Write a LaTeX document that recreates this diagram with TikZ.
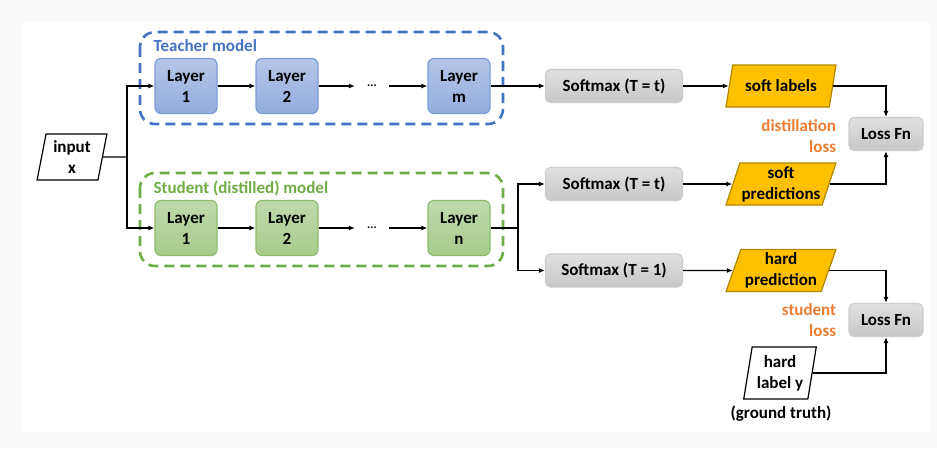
\documentclass[tikz,border=0pt]{standalone}
\usepackage{fontspec}
\setmainfont{Carlito}
\usetikzlibrary{arrows.meta,shapes.geometric}

\definecolor{tblue}{HTML}{4472C4}
\definecolor{sgreen}{HTML}{70AD47}
\definecolor{lossorange}{HTML}{ED7D31}
\definecolor{dataorange}{HTML}{FFC000}

\tikzset{
  layerT/.style={rounded corners=6pt, draw=tblue!70, top color=tblue!40, bottom color=tblue!58,
    minimum width=62pt, minimum height=55pt},
  layerS/.style={rounded corners=6pt, draw=sgreen!80, top color=sgreen!45, bottom color=sgreen!62,
    minimum width=62pt, minimum height=55pt},
  softbox/.style={rounded corners=5pt, draw=black!20, top color=black!12, bottom color=black!22,
    minimum width=137pt, minimum height=33pt},
  lossbox/.style={softbox, minimum width=74pt},
  datashape/.style={trapezium, trapezium left angle=70, trapezium right angle=110,
    trapezium stretches=true, draw=dataorange!70!black, fill=dataorange,
    minimum width=110pt, minimum height=42pt, inner sep=1pt},
  inshape/.style={datashape, fill=white, draw=black, trapezium left angle=79, trapezium right angle=101},
  modelbox/.style={draw, dashed, line width=2.6pt, dash pattern=on 10pt off 6pt, rounded corners=15pt},
  dots/.style={minimum width=33pt, inner sep=0pt, font=\fontsize{12}{12}\selectfont\bfseries},
}

\begin{document}
\begin{tikzpicture}[x=1pt, y=-1pt,
    every node/.style={align=center, font=\fontsize{17}{21}\selectfont\bfseries},
    line width=1.2pt,
    >={Latex[length=6pt,width=5pt]}
  ]
    % background
    \fill[black!2] (0,0) rectangle (937,448);
    \fill[white] (22,22) rectangle (931,432);
    \useasboundingbox (0,0) rectangle (937,448);

    % model frames
    \draw[modelbox, tblue] (140,32) rectangle (503,124);
    \node[anchor=west, text=tblue, inner sep=0pt] (tname) at (153,46) {Teacher model};
    \draw[modelbox, sgreen] (140,173) rectangle (503,266);
    \node[anchor=west, text=sgreen, inner sep=0pt] (sname) at (153,188) {Student (distilled) model};

    % input
    \node[inshape, minimum width=70pt, minimum height=46pt] (inp) at (72,157) {input\\x};
    \coordinate (fork) at (127,157);

    % teacher layers
    \node[layerT] (t1) at (186,86) {Layer\\1};
    \node[layerT] (t2) at (287,86) {Layer\\2};
    \node[dots] (tdots) at (372,86) {...};
    \node[layerT] (tm) at (459,86) {Layer\\m};

    % student layers
    \node[layerS] (s1) at (186,228) {Layer\\1};
    \node[layerS] (s2) at (287,228) {Layer\\2};
    \node[dots] (sdots) at (372,228) {...};
    \node[layerS] (sn) at (459,228) {Layer\\n};
    \coordinate (sfork) at (518,228);

    % softmax boxes
    \node[softbox] (softT) at (614,86) {Softmax (T = t)};
    \node[softbox] (softS) at (614,184) {Softmax (T = t)};
    \node[softbox] (softH) at (614,270.5) {Softmax (T = 1)};

    % outputs
    \node[datashape] (softlab) at (781,86) {soft labels};
    \node[datashape] (softpred) at (781,184) {soft\\predictions};
    \node[datashape] (hardpred) at (781,270.5) {hard\\prediction};
    \node[inshape, minimum width=73pt, minimum height=52pt] (hardlab) at (780,373) {hard\\label y};
    \node (truth) at (781,414) {(ground truth)};

    % losses
    \node[lossbox] (loss1) at (886,134) {Loss Fn};
    \node[lossbox] (loss2) at (886,320) {Loss Fn};
    \node[anchor=east, align=right, text=lossorange] (dloss) at (840,136) {distillation\\loss};
    \node[anchor=east, align=right, text=lossorange] (sloss) at (840,320) {student\\loss};

    \draw (inp) -- (fork);
    \draw[->] (fork) |- (t1);
    \draw[->] (fork) |- (s1);

    \draw[->] (t1) -- (t2);
    \draw[->] (t2) -- (tdots);
    \draw[->] (tdots) -- (tm);
    \draw[->] (tm) -- (softT);
    \draw[->] (softT) -- (softlab);

    \draw[->] (s1) -- (s2);
    \draw[->] (s2) -- (sdots);
    \draw[->] (sdots) -- (sn);
    \draw (sn) -- (sfork);
    \draw[->] (sfork) |- (softS);
    \draw[->] (sfork) |- (softH);
    \draw[->] (softS) -- (softpred);
    \draw[->] (softH) -- (hardpred);

    \draw[->] (softlab.east) -| (loss1.north);
    \draw[->] (softpred.east) -| (loss1.south);
    \draw[->] (hardpred.east) -| (loss2.north);
    \draw[->] (hardlab.east) -| (loss2.south);
  \end{tikzpicture}
\end{document}
